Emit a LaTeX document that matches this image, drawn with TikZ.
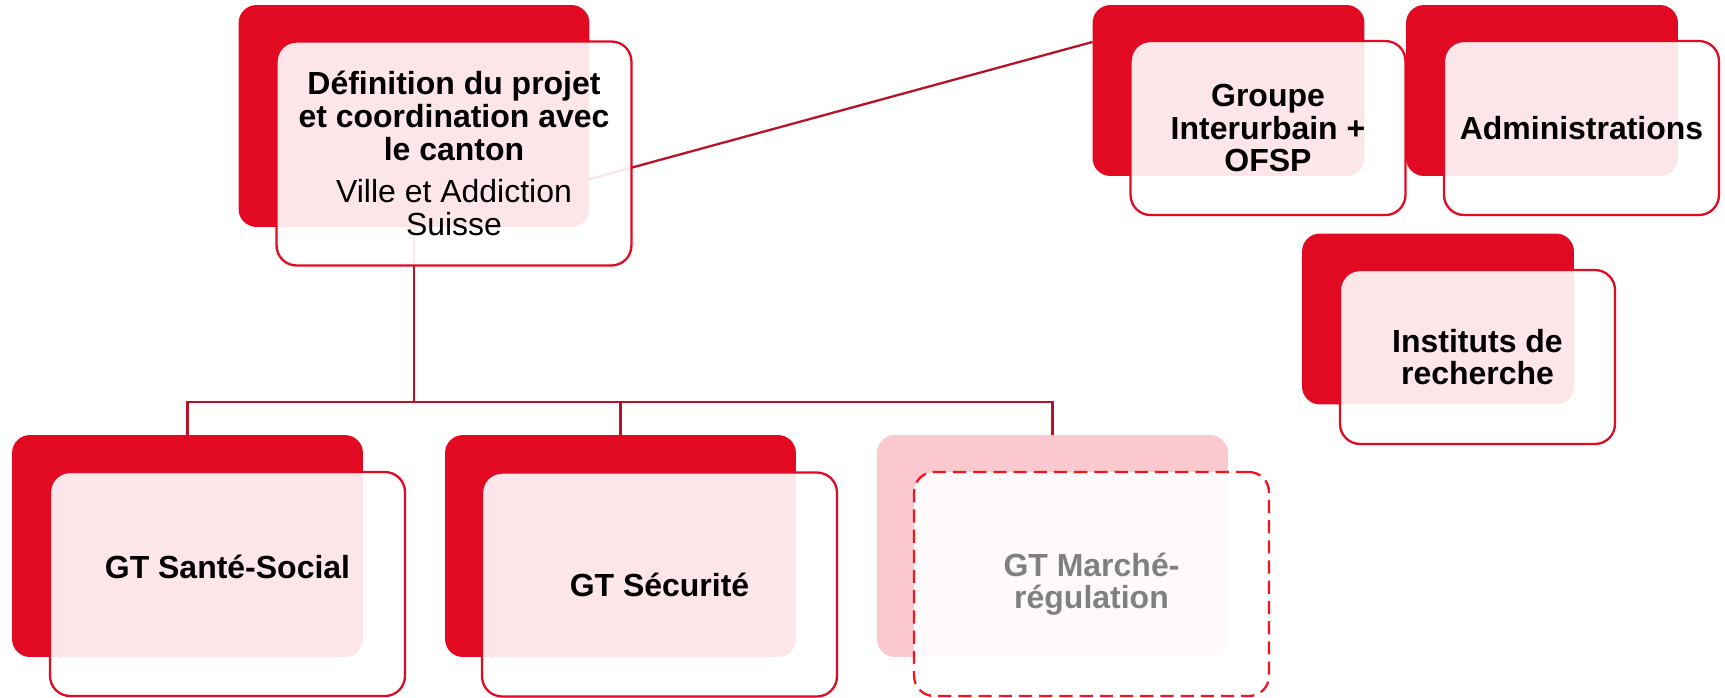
\documentclass[tikz,border=0pt]{standalone}
\usepackage{fontspec}
\setmainfont{Liberation Sans}
\usetikzlibrary{calc}
\usetikzlibrary{backgrounds}
\definecolor{boxred}{RGB}{226,10,35}
\definecolor{linkred}{RGB}{185,18,38}
\definecolor{dashred}{RGB}{245,20,30}
\definecolor{greytext}{RGB}{128,128,128}

\begin{document}
\begin{tikzpicture}[
  x=0.02cm, y=-0.02cm,
  font=\fontsize{18.2}{18.6}\selectfont\bfseries,
  backbox/.style={fill=boxred, rounded corners=0.36cm, inner sep=0pt, outer sep=0pt, minimum width=7.02cm, minimum height=4.44cm},
  smallback/.style={backbox, minimum width=5.44cm, minimum height=3.42cm},
  frontbox/.style={draw=boxred, line width=1.3pt, fill=white, fill opacity=0.9, text opacity=1, rounded corners=0.4cm, align=center, inner sep=0pt, outer sep=0pt, minimum width=7.10cm, minimum height=4.48cm},
  smallfront/.style={frontbox, minimum width=5.50cm, minimum height=3.48cm},
  link/.style={draw=linkred, line width=1.3pt}
]
\useasboundingbox (0,0) rectangle (1725,697);

% Back boxes
\node[backbox] (mainB) at (414,116) {};
\node[smallback] (grpB) at (1228.5,90.5) {};
\node[smallback] (admB) at (1542,90.5) {};
\node[smallback] (instB) at (1438,319) {};
\node[backbox] (santeB) at (187.5,546) {};
\node[backbox] (secB) at (620.5,546) {};
\node[backbox, fill=boxred!22] (marB) at (1052.5,546) {};

% Connectors
\coordinate (bus) at (414,402);
\begin{scope}[on background layer]
\draw[link] (mainB.center) -- (bus) -| (santeB.north);
\draw[link] (bus) -| (secB.north);
\draw[link] (bus) -| (marB.north);
\draw[link] (mainB.south) -- ($(grpB.north west)!0.216!(grpB.south west)$);
\end{scope}

% Front boxes
\node[frontbox] (mainF) at (454,153.5)
{D\'efinition du projet\\ et coordination avec\\ le canton\\[0.2cm]
\mdseries Ville et Addiction\\ \mdseries Suisse};
\node[smallfront] (grpF) at (1268,128) {Groupe\\ Interurbain +\\ OFSP};
\node[smallfront] (admF) at (1581.5,128) {Administrations};
\node[smallfront] (instF) at (1477.5,357) {Instituts de\\ recherche};
\node[frontbox] (santeF) at (227.5,584) {\raisebox{0.68cm}{GT Sant\'e-Social}};
\node[frontbox] (secF) at (659.5,584.5) {GT S\'ecurit\'e};
\node[frontbox, draw=dashred, dash pattern=on 7.5pt off 4pt, text=greytext] (marF) at (1091.5,584)
{GT March\'e-\\ r\'egulation};

\end{tikzpicture}
\end{document}
